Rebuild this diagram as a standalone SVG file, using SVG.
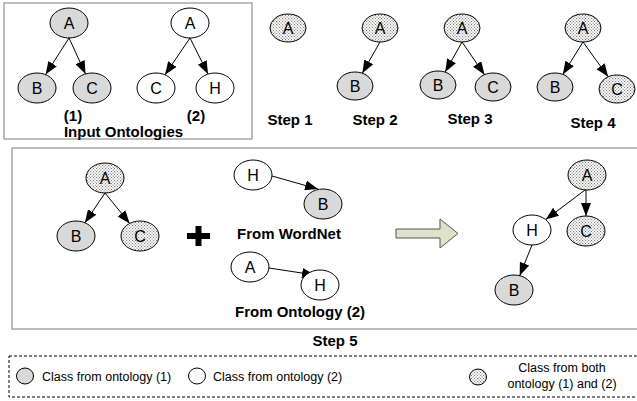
<svg xmlns="http://www.w3.org/2000/svg" width="637" height="401" viewBox="0 0 637 401">
<style>
.n{stroke:#000;stroke-width:1}
.g{fill:#d9d9d9}
.w{fill:#fff}
.d{fill:url(#dots)}
.t{font-family:"Liberation Sans",Arial,sans-serif;font-size:16px;text-anchor:middle;fill:#000}
.b{font-family:"Liberation Sans",Arial,sans-serif;font-size:15px;font-weight:bold;text-anchor:middle;fill:#000}
.l{font-family:"Liberation Sans",Arial,sans-serif;font-size:12.5px;fill:#000}
.e{stroke:#000;stroke-width:1;fill:none;marker-end:url(#ah)}
.box{fill:none;stroke:#a6a6a6;stroke-width:1.5}
</style>
<defs>
<pattern id="dots" width="3" height="3" patternUnits="userSpaceOnUse">
<rect width="3" height="3" fill="#fff"/>
<rect x="0" y="0" width="1.1" height="1.1" fill="#808080"/>
<rect x="1.5" y="1.5" width="1.1" height="1.1" fill="#808080"/>
</pattern>
<marker id="ah" markerWidth="13" markerHeight="10" refX="13" refY="5" orient="auto" markerUnits="userSpaceOnUse">
<path d="M0,0 L13,5 L0,10 Z" fill="#000"/>
</marker>
</defs>

<rect class="box" x="4" y="3" width="248" height="136"/>
<rect class="box" x="12" y="148" width="640" height="181"/>
<rect x="9" y="356" width="640" height="41" fill="none" stroke="#000" stroke-width="1" stroke-dasharray="3,2"/>

<g id="connectors">
<line class="e" x1="69" y1="38" x2="45.6" y2="74.6"/>
<line class="e" x1="69" y1="38" x2="85.5" y2="73.9"/>
<line class="e" x1="190" y1="38" x2="165" y2="74.8"/>
<line class="e" x1="190" y1="38" x2="208" y2="74"/>
<line class="e" x1="380" y1="42" x2="362.3" y2="73.2"/>
<line class="e" x1="462" y1="42" x2="445.2" y2="72.1"/>
<line class="e" x1="462" y1="42" x2="484.5" y2="74.7"/>
<line class="e" x1="583" y1="42" x2="562.8" y2="74.4"/>
<line class="e" x1="583" y1="42" x2="608.2" y2="76.8"/>
<line class="e" x1="105" y1="193" x2="84.9" y2="222.8"/>
<line class="e" x1="105" y1="193" x2="129.7" y2="223.4"/>
<line class="e" x1="272" y1="176" x2="318" y2="189"/>
<line class="e" x1="269" y1="268" x2="315" y2="275"/>
<line class="e" x1="585" y1="190" x2="545.7" y2="219.6"/>
<line class="e" x1="586" y1="190" x2="586" y2="216"/>
<line class="e" x1="532" y1="245" x2="519.7" y2="275.7"/>
</g>

<g id="in1-A"><ellipse class="n g" cx="69" cy="23" rx="19" ry="15"/><text class="t" x="69" y="29">A</text></g>
<g id="in1-B"><ellipse class="n g" cx="37" cy="88" rx="19" ry="15"/><text class="t" x="37" y="94">B</text></g>
<g id="in1-C"><ellipse class="n g" cx="92" cy="88" rx="19" ry="15"/><text class="t" x="92" y="94">C</text></g>
<g id="in2-A"><ellipse class="n w" cx="190" cy="23" rx="19" ry="15"/><text class="t" x="190" y="29">A</text></g>
<g id="in2-C"><ellipse class="n w" cx="156" cy="88" rx="19" ry="15"/><text class="t" x="156" y="94">C</text></g>
<g id="in2-H"><ellipse class="n w" cx="215" cy="88" rx="19" ry="15"/><text class="t" x="215" y="94">H</text></g>
<g id="lab-in"><text class="b" x="73" y="121">(1)</text><text class="b" x="196" y="121">(2)</text><text class="b" x="123.5" y="137">Input Ontologies</text></g>

<g id="s1-A"><ellipse class="n d" cx="288" cy="28" rx="18" ry="14"/><text class="t" x="288" y="34">A</text></g>
<g id="s2-A"><ellipse class="n d" cx="380" cy="28" rx="18" ry="14"/><text class="t" x="380" y="34">A</text></g>
<g id="s2-B"><ellipse class="n g" cx="355" cy="86" rx="18" ry="14"/><text class="t" x="355" y="92">B</text></g>
<g id="s3-A"><ellipse class="n d" cx="462" cy="28" rx="18" ry="14"/><text class="t" x="462" y="34">A</text></g>
<g id="s3-B"><ellipse class="n g" cx="438" cy="85" rx="18" ry="14"/><text class="t" x="438" y="91">B</text></g>
<g id="s3-C"><ellipse class="n g" cx="493" cy="87" rx="18" ry="14"/><text class="t" x="493" y="93">C</text></g>
<g id="s4-A"><ellipse class="n d" cx="583" cy="28" rx="18" ry="14"/><text class="t" x="583" y="34">A</text></g>
<g id="s4-B"><ellipse class="n g" cx="555" cy="87" rx="18" ry="14"/><text class="t" x="555" y="93">B</text></g>
<g id="s4-C"><ellipse class="n d" cx="617" cy="89" rx="18" ry="14"/><text class="t" x="617" y="95">C</text></g>
<g id="lab-steps"><text class="b" x="290" y="125">Step 1</text><text class="b" x="375" y="125">Step 2</text><text class="b" x="470" y="124">Step 3</text><text class="b" x="593" y="128">Step 4</text></g>

<g id="s5-A"><ellipse class="n d" cx="105" cy="178" rx="19" ry="15"/><text class="t" x="105" y="184">A</text></g>
<g id="s5-B"><ellipse class="n g" cx="76" cy="236" rx="19" ry="15"/><text class="t" x="76" y="242">B</text></g>
<g id="s5-C"><ellipse class="n d" cx="140" cy="236" rx="19" ry="15"/><text class="t" x="140" y="242">C</text></g>
<g id="plus"><rect x="187" y="233" width="23" height="6" fill="#000"/><rect x="195.5" y="226" width="6" height="20" fill="#000"/></g>
<g id="wn-H"><ellipse class="n w" cx="253" cy="175" rx="19" ry="15"/><text class="t" x="253" y="181">H</text></g>
<g id="wn-B"><ellipse class="n g" cx="323" cy="204" rx="19" ry="15"/><text class="t" x="323" y="210">B</text></g>
<text class="b" x="289" y="239">From WordNet</text>
<g id="o2-A"><ellipse class="n w" cx="250" cy="267" rx="19" ry="15"/><text class="t" x="250" y="273">A</text></g>
<g id="o2-H"><ellipse class="n w" cx="320" cy="285" rx="19" ry="15"/><text class="t" x="320" y="291">H</text></g>
<text class="b" x="300" y="317">From Ontology (2)</text>
<g id="bigarrow"><path d="M396,229 H440 V219 L458,233.5 L440,248 V238 H396 Z" fill="#dde2c9" stroke="#555" stroke-width="1"/></g>
<g id="r-A"><ellipse class="n d" cx="587" cy="175" rx="19" ry="15"/><text class="t" x="587" y="181">A</text></g>
<g id="r-H"><ellipse class="n w" cx="532" cy="230" rx="19" ry="15"/><text class="t" x="532" y="236">H</text></g>
<g id="r-C"><ellipse class="n d" cx="586" cy="231" rx="19" ry="15"/><text class="t" x="586" y="237">C</text></g>
<g id="r-B"><ellipse class="n g" cx="514" cy="290" rx="19" ry="15"/><text class="t" x="514" y="296">B</text></g>
<text class="b" x="335" y="346">Step 5</text>

<g id="legend">
<ellipse class="n g" cx="25" cy="376" rx="8.5" ry="8"/>
<text class="l" x="42" y="380.5">Class from ontology (1)</text>
<ellipse class="n w" cx="197" cy="376" rx="8.5" ry="8"/>
<text class="l" x="213" y="380.5">Class from ontology (2)</text>
<ellipse class="n d" cx="478" cy="377" rx="8.5" ry="8"/>
<text class="l" x="562" y="372" text-anchor="middle">Class from both</text>
<text class="l" x="562" y="388" text-anchor="middle">ontology (1) and (2)</text>
</g>
</svg>
